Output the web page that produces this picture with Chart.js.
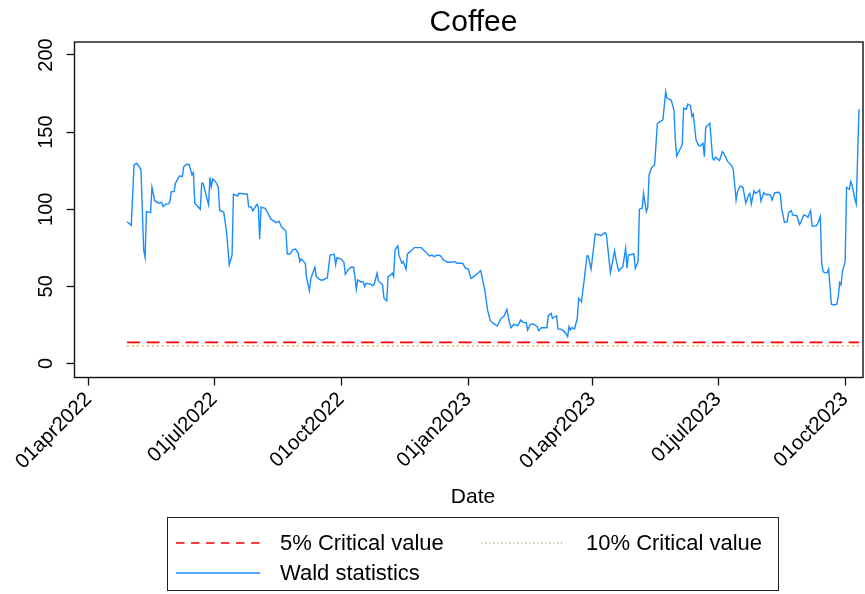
<!DOCTYPE html>
<html>
<head>
<meta charset="utf-8">
<title>Coffee</title>
<style>
  html, body { margin: 0; padding: 0; background: #ffffff; }
  #wrap { width: 865px; height: 594px; }
</style>
<script src="https://cdn.jsdelivr.net/npm/chart.js@4.4.1/dist/chart.umd.min.js"></script>
</head>
<body>
<div id="wrap"><canvas id="c" width="865" height="594"></canvas></div>
<script>
// Observation dates, stored as days since 01apr2022
const baseDate = '2022-04-01';
const dayNum = [
  28, 31, 33, 35, 38, 40, 41, 42, 45, 46, 48, 51, 53, 54, 56, 58, 59, 60, 62, 63,
  66, 68, 69, 71, 73, 74, 75, 76, 77, 81, 82, 83, 87, 88, 89, 90, 92, 94, 95, 98,
  100, 102, 104, 105, 108, 109, 115, 116, 118, 119, 122, 123, 124, 125, 128, 130, 132, 136, 138, 140,
  143, 144, 146, 148, 150, 152, 153, 154, 157, 158, 160, 161, 164, 165, 168, 170, 172, 173, 175, 178,
  179, 180, 183, 185, 186, 188, 190, 192, 193, 194, 195, 197, 199, 200, 201, 204, 206, 207, 209, 210,
  213, 214, 216, 217, 219, 220, 221, 222, 224, 225, 227, 228, 230, 231, 233, 236, 241, 242, 244, 247,
  249, 250, 253, 255, 257, 260, 262, 265, 267, 271, 273, 275, 277, 279, 282, 284, 285, 287, 289, 291,
  293, 296, 297, 299, 301, 303, 305, 306, 308, 311, 313, 315, 317, 318, 320, 322, 325, 326, 328, 332,
  333, 335, 336, 339, 340, 342, 344, 346, 347, 348, 349, 350, 352, 354, 355, 357, 359, 361, 362, 364,
  367, 370, 371, 374, 375, 378, 381, 382, 384, 387, 389, 390, 391, 395, 396, 398, 399, 401, 402, 404,
  405, 406, 408, 410, 412, 414, 416, 418, 419, 422, 424, 425, 426, 430, 431, 433, 434, 436, 437, 438,
  440, 442, 443, 445, 446, 447, 450, 452, 453, 454, 457, 459, 460, 463, 466, 467, 469, 470, 472, 474,
  476, 478, 479, 480, 482, 483, 485, 486, 487, 489, 491, 492, 494, 495, 497, 500, 501, 502, 504, 506,
  507, 509, 510, 513, 515, 516, 518, 520, 521, 523, 524, 527, 528, 530, 531, 532, 533, 535, 536, 538,
  540, 542, 543, 544, 545, 546, 548, 549, 551, 552, 553, 555, 556, 558
];

// Wald statistic on each observation date
const wald = [
  91.9, 89.6, 128.7, 129.8, 125.9, 73.6, 68.8, 98.4, 97.8, 114.2, 105.5, 103.9, 104.5, 101.7, 103.2, 103.4, 104.9, 111.4, 111.4, 116.8,
  121.6, 121.1, 127.6, 129.1, 128.9, 125.4, 122.2, 123.7, 103.9, 100.0, 116.8, 116.8, 102.8, 120.7, 114.6, 119.6, 117.9, 114.6, 99.5, 98.0,
  85.4, 63.9, 70.3, 109.7, 108.6, 110.3, 109.7, 101.7, 101.3, 98.9, 103.2, 101.7, 80.5, 101.3, 100.6, 97.4, 93.7, 91.3, 92.2, 88.3,
  85.9, 71.0, 71.0, 73.6, 74.2, 71.4, 66.0, 67.7, 65.0, 55.2, 47.2, 55.0, 62.4, 56.3, 54.1, 54.1, 55.2, 55.6, 70.3, 70.8,
  63.9, 68.6, 67.7, 65.6, 57.8, 60.6, 62.4, 62.4, 56.3, 48.1, 54.1, 53.0, 53.0, 49.8, 52.0, 51.5, 50.4, 51.5, 58.5, 53.7,
  50.9, 42.3, 40.7, 56.3, 57.4, 58.5, 56.3, 73.6, 76.4, 69.7, 65.0, 66.0, 61.1, 71.0, 72.5, 75.1, 75.1, 74.2, 72.5, 69.7,
  70.3, 69.2, 70.3, 69.7, 67.1, 65.6, 65.6, 66.0, 65.0, 65.0, 61.7, 61.3, 55.2, 56.3, 58.5, 60.2, 56.3, 47.6, 34.7, 27.7,
  26.1, 24.3, 26.1, 29.3, 30.8, 35.1, 26.1, 23.2, 25.4, 24.5, 28.2, 26.5, 26.5, 21.7, 25.4, 25.6, 23.9, 21.3, 23.2, 23.2,
  30.8, 32.5, 29.3, 30.8, 22.4, 22.2, 21.1, 19.1, 17.4, 23.9, 21.7, 23.2, 22.4, 29.3, 42.3, 40.1, 54.1, 69.7, 69.7, 61.1,
  84.0, 83.3, 82.9, 84.8, 84.0, 58.9, 73.1, 67.5, 60.0, 62.8, 74.7, 61.7, 70.3, 71.0, 61.7, 66.0, 100.0, 100.6, 110.3, 98.4,
  101.0, 122.2, 127.2, 128.7, 155.7, 156.8, 157.9, 176.2, 171.9, 170.8, 164.3, 144.9, 134.5, 141.7, 165.4, 164.8, 168.2, 167.1, 160.0, 161.7,
  144.9, 141.2, 141.0, 142.8, 134.1, 153.1, 155.7, 133.0, 131.9, 133.7, 131.5, 137.3, 136.3, 130.8, 128.0, 125.4, 106.0, 111.4, 115.1, 114.2,
  103.9, 109.2, 110.3, 103.4, 112.0, 110.3, 111.4, 112.5, 105.3, 110.7, 109.2, 109.7, 109.2, 106.0, 110.7, 111.0, 109.7, 100.6, 91.5, 91.9,
  97.8, 99.1, 96.3, 95.8, 90.2, 91.9, 96.3, 95.6, 94.8, 99.1, 89.1, 89.3, 90.4, 95.2, 65.0, 59.5, 58.9, 58.9, 61.1, 38.4,
  37.9, 38.4, 43.3, 52.4, 50.9, 59.5, 66.0, 114.2, 112.9, 117.9, 115.7, 106.5, 103.4, 164.8
];

// Critical values of the test
const crit5 = 13.7;
const crit10 = 11.5;

// Axis ticks and titles
const xTickDates = ['2022-04-01', '2022-07-01', '2022-10-01', '2023-01-01', '2023-04-01', '2023-07-01', '2023-10-01'];
const yTickValues = [0, 50, 100, 150, 200];
const chartTitle = 'Coffee';
const xAxisTitle = 'Date';

const monthAbbr = ['jan', 'feb', 'mar', 'apr', 'may', 'jun', 'jul', 'aug', 'sep', 'oct', 'nov', 'dec'];
const DAY_MS = 86400000;
const baseMs = Date.parse(baseDate + 'T00:00:00Z');
const toDayNum = s => Math.round((Date.parse(s + 'T00:00:00Z') - baseMs) / DAY_MS);
const fmtDay = n => {
  const d = new Date(baseMs + n * DAY_MS);
  const dd = String(d.getUTCDate()).padStart(2, '0');
  return dd + monthAbbr[d.getUTCMonth()] + d.getUTCFullYear();
};
const xTicks = xTickDates.map(toDayNum);

const FONT = "'Liberation Sans', Arial, Helvetica, sans-serif";
Chart.defaults.font.family = FONT;
Chart.defaults.color = '#000';

const waldPts = dayNum.map((d, i) => ({ x: d, y: wald[i] }));
const first = dayNum[0], last = dayNum[dayNum.length - 1];

const datasets = [
  {
    label: '5% Critical value',
    data: [{ x: first, y: crit5 }, { x: last, y: crit5 }],
    borderColor: '#ff0000', borderWidth: 1.7, borderDash: [13, 6.5],
    legendDash: [8.5, 6.5]
  },
  {
    label: '10% Critical value',
    data: [{ x: first, y: crit10 }, { x: last, y: crit10 }],
    borderColor: '#f59a3c', borderWidth: 1.5, borderDash: [1.5, 3.5],
    legendDash: [1.2, 2.8]
  },
  {
    label: 'Wald statistics',
    data: waldPts,
    borderColor: '#1a8cff', borderWidth: 1.4, borderDash: [],
    legendDash: []
  }
];
datasets.forEach(ds => { ds.pointRadius = 0; ds.tension = 0; ds.fill = false; });

// Plot frame, titles, vertical y labels and the boxed legend
const decorations = {
  id: 'decorations',
  afterDraw(chart) {
    const { ctx, chartArea: a, scales } = chart;
    ctx.save();
    ctx.strokeStyle = '#111';
    ctx.lineWidth = 1.4;
    ctx.strokeRect(a.left, a.top, a.right - a.left, a.bottom - a.top);

    ctx.fillStyle = '#000';
    ctx.textAlign = 'center';
    ctx.textBaseline = 'alphabetic';
    ctx.font = '30px ' + FONT;
    ctx.fillText(chartTitle, 473.5, 31);
    ctx.font = '21px ' + FONT;
    ctx.fillText(xAxisTitle, 473, 503);

    // y tick labels, reading bottom to top
    ctx.font = '20px ' + FONT;
    ctx.textBaseline = 'middle';
    const ys = scales.y;
    yTickValues.forEach(v => {
      const py = ys.getPixelForValue(v);
      ctx.save();
      ctx.translate(46.5, py);
      ctx.rotate(-Math.PI / 2);
      ctx.fillText(String(v), 0, 0);
      ctx.restore();
    });

    // legend
    const box = { x: 167.5, y: 517.5, w: 611, h: 73 };
    ctx.strokeStyle = '#222';
    ctx.lineWidth = 1;
    ctx.strokeRect(box.x, box.y, box.w, box.h);
    const slots = [
      { sx: 176, tx: 280, y: 543 },
      { sx: 481, tx: 586, y: 543 },
      { sx: 176, tx: 280, y: 573 }
    ];
    chart.data.datasets.forEach((ds, i) => {
      const s = slots[i];
      ctx.save();
      ctx.strokeStyle = ds.borderColor;
      ctx.lineWidth = ds.borderWidth;
      ctx.setLineDash(ds.legendDash);
      ctx.beginPath();
      ctx.moveTo(s.sx, s.y);
      ctx.lineTo(s.sx + 84, s.y);
      ctx.stroke();
      ctx.restore();
      ctx.fillStyle = '#000';
      ctx.font = '22px ' + FONT;
      ctx.textAlign = 'left';
      ctx.textBaseline = 'middle';
      ctx.fillText(ds.label, s.tx, s.y + 1);
    });
    ctx.restore();
  }
};

new Chart(document.getElementById('c'), {
  type: 'line',
  data: { datasets },
  options: {
    responsive: false,
    animation: false,
    devicePixelRatio: 1,
    layout: { autoPadding: false, padding: { left: 0, right: 2, top: 42, bottom: 84 } },
    plugins: {
      legend: { display: false },
      tooltip: { enabled: false },
      title: { display: false }
    },
    scales: {
      x: {
        type: 'linear',
        min: -10.1, max: 560.9,
        afterBuildTicks: s => { s.ticks = xTicks.map(v => ({ value: v })); },
        afterFit: s => { s.height = 132.5; },
        grid: { drawOnChartArea: false, drawTicks: true, tickLength: 8, tickColor: '#111', tickWidth: 1.3 },
        border: { display: false },
        ticks: {
          autoSkip: false, minRotation: 45, maxRotation: 45, padding: 2,
          color: '#000', font: { size: 20.5 },
          callback: v => fmtDay(v)
        },
        title: { display: false }
      },
      y: {
        type: 'linear',
        min: -9.1, max: 208.4,
        afterBuildTicks: s => { s.ticks = yTickValues.map(v => ({ value: v })); },
        afterFit: s => { s.width = 74.5; },
        grid: { drawOnChartArea: false, drawTicks: true, tickLength: 8, tickColor: '#111', tickWidth: 1.3 },
        border: { display: false },
        ticks: { display: false }
      }
    }
  },
  plugins: [decorations]
});
</script>
</body>
</html>
